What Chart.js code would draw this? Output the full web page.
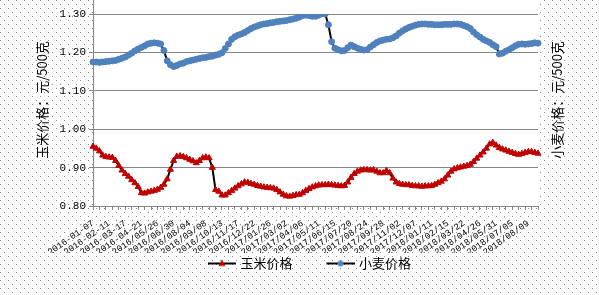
<!DOCTYPE html>
<html lang="zh">
<head>
<meta charset="UTF-8">
<title>玉米与小麦价格</title>
<script src="https://cdn.jsdelivr.net/npm/chart.js"></script>
<style>
  body { margin: 0; background: #fff; }
  #wrap { width: 599px; height: 295px; }
</style>
</head>
<body>
<div id="wrap"><canvas id="precioChart" width="599" height="295"></canvas></div>
<script>
  // etiquetas del eje x (una cada 5 semanas)
  const tickLabels = [
    '2016-01-07', '2016-02-11', '2016-03-17', '2016-04-21', '2016/05/26', '2016/06/30',
    '2016/08/04', '2016/09/08', '2016/10/13', '2016/11/17', '2016/12/22', '2017/01/26',
    '2017/03/02', '2017/04/06', '2017/05/11', '2017/06/15', '2017/07/20', '2017/08/24',
    '2017/09/28', '2017/11/02', '2017/12/07', '2018/01/11', '2018/02/15', '2018/03/22',
    '2018/04/26', '2018/05/31', '2018/07/05', '2018/08/09'
  ];

  // 玉米价格 (元/500克), semanal
  const cornPrice = [
    0.955, 0.950, 0.943, 0.932, 0.928, 0.927, 0.926, 0.918, 0.905, 0.893,
    0.884, 0.877, 0.868, 0.860, 0.850, 0.834, 0.833, 0.836, 0.838, 0.840,
    0.843, 0.848, 0.856, 0.870, 0.895, 0.918, 0.929, 0.930, 0.928, 0.925,
    0.921, 0.917, 0.912, 0.918, 0.925, 0.927, 0.925, 0.900, 0.842, 0.838,
    0.828, 0.828, 0.834, 0.840, 0.846, 0.852, 0.857, 0.862, 0.861, 0.858,
    0.856, 0.853, 0.851, 0.849, 0.848, 0.847, 0.846, 0.842, 0.836, 0.830,
    0.826, 0.825, 0.827, 0.829, 0.830, 0.834, 0.840, 0.845, 0.849, 0.852,
    0.854, 0.855, 0.855, 0.856, 0.855, 0.854, 0.853, 0.852, 0.853, 0.862,
    0.874, 0.884, 0.890, 0.893, 0.894, 0.894, 0.893, 0.894, 0.890, 0.886,
    0.886, 0.892, 0.886, 0.872, 0.862, 0.858, 0.856, 0.855, 0.855, 0.853,
    0.852, 0.852, 0.851, 0.852, 0.852, 0.853, 0.856, 0.860, 0.864, 0.870,
    0.880, 0.890, 0.896, 0.899, 0.901, 0.903, 0.905, 0.908, 0.915, 0.924,
    0.932, 0.940, 0.950, 0.961, 0.965, 0.958, 0.952, 0.948, 0.945, 0.942,
    0.939, 0.936, 0.934, 0.936, 0.939, 0.941, 0.941, 0.939, 0.937
  ];

  // 小麦价格 (元/500克), semanal
  const wheatPrice = [
    1.175, 1.175, 1.174, 1.175, 1.176, 1.177, 1.178, 1.179, 1.182, 1.185,
    1.188, 1.193, 1.198, 1.204, 1.209, 1.213, 1.217, 1.222, 1.224, 1.225,
    1.224, 1.222, 1.205, 1.178, 1.168, 1.163, 1.166, 1.170, 1.172, 1.176,
    1.178, 1.180, 1.182, 1.184, 1.186, 1.187, 1.189, 1.190, 1.193, 1.195,
    1.199, 1.210, 1.222, 1.234, 1.241, 1.245, 1.248, 1.252, 1.257, 1.262,
    1.266, 1.269, 1.272, 1.274, 1.275, 1.277, 1.278, 1.280, 1.281, 1.282,
    1.283, 1.285, 1.287, 1.289, 1.292, 1.296, 1.297, 1.296, 1.294, 1.294,
    1.297, 1.301, 1.300, 1.272, 1.228, 1.211, 1.207, 1.204, 1.205, 1.212,
    1.219, 1.215, 1.211, 1.208, 1.206, 1.207, 1.214, 1.220, 1.226, 1.230,
    1.232, 1.234, 1.235, 1.238, 1.243, 1.250, 1.256, 1.261, 1.265, 1.268,
    1.271, 1.273, 1.274, 1.274, 1.273, 1.273, 1.272, 1.272, 1.272, 1.273,
    1.273, 1.273, 1.274, 1.274, 1.273, 1.270, 1.267, 1.262, 1.253, 1.246,
    1.240, 1.234, 1.230, 1.226, 1.220, 1.215, 1.196, 1.198, 1.203, 1.207,
    1.212, 1.217, 1.221, 1.222, 1.221, 1.222, 1.223, 1.225, 1.224
  ];

  const yMin = 0.8, yMax = 1.3, yStep = 0.1;

  const categories = cornPrice.map((v, i) => i % 5 === 0 ? tickLabels[i / 5] : '');

  // fondo punteado tipo Excel
  function dotTile() {
    const t = document.createElement('canvas');
    t.width = 8; t.height = 8;
    const g = t.getContext('2d');
    g.fillStyle = '#8c8c8c';
    g.fillRect(0, 0, 1, 1);
    g.fillRect(4, 4, 1, 1);
    return t;
  }

  // iconos de la leyenda: linea negra con marcador (60px, caja de 56px)
  function legendIcon(color, shape) {
    const c = document.createElement('canvas');
    c.width = 60; c.height = 10;
    const g = c.getContext('2d');
    g.strokeStyle = '#000';
    g.lineWidth = 2;
    g.beginPath(); g.moveTo(32, 5); g.lineTo(60, 5); g.stroke();
    g.fillStyle = color;
    g.beginPath();
    if (shape === 'triangle') {
      g.moveTo(46, 1); g.lineTo(49.5, 7.5); g.lineTo(42.5, 7.5); g.closePath();
    } else {
      g.arc(46, 5, 3, 0, Math.PI * 2);
    }
    g.fill();
    return c;
  }
  const icons = [legendIcon('#C00000', 'triangle'), legendIcon('#4F81BD', 'circle')];

  const fondoPlugin = {
    id: 'fondo',
    beforeDraw(chart) {
      const { ctx, chartArea: a, width, height } = chart;
      ctx.save();
      ctx.fillStyle = '#fff';
      ctx.fillRect(0, 0, width, height);
      ctx.fillStyle = ctx.createPattern(dotTile(), 'repeat');
      ctx.fillRect(0, 0, width, height);
      ctx.fillStyle = '#fff';
      ctx.fillRect(a.left, 0, a.right - a.left, a.bottom);
      ctx.restore();
    },
    afterDraw(chart) {
      const { ctx, chartArea: a } = chart;
      ctx.save();
      // prolongar el eje izquierdo hasta arriba
      ctx.strokeStyle = '#868686';
      ctx.lineWidth = 1;
      ctx.beginPath();
      ctx.moveTo(a.left + 0.5, 0);
      ctx.lineTo(a.left + 0.5, a.top);
      ctx.stroke();
      // titulos de los ejes
      ctx.fillStyle = '#000';
      ctx.font = '13px "Noto Sans CJK SC"';
      ctx.textAlign = 'center';
      ctx.textBaseline = 'middle';
      [[42, '玉米价格：元/500克'], [557, '小麦价格：元/500克']].forEach(([x, txt]) => {
        ctx.save();
        ctx.translate(x, 100);
        ctx.rotate(-Math.PI / 2);
        ctx.fillText(txt, 0, 0);
        ctx.restore();
      });
      ctx.restore();
    }
  };

  new Chart(document.getElementById('precioChart'), {
    type: 'line',
    data: {
      labels: categories,
      datasets: [{
        label: '玉米价格',
        data: cornPrice,
        borderColor: '#000',
        borderWidth: 2,
        pointStyle: 'triangle',
        pointRadius: 3.5,
        pointBackgroundColor: '#C00000',
        pointBorderColor: '#C00000',
        pointBorderWidth: 1,
        tension: 0
      }, {
        label: '小麦价格',
        data: wheatPrice,
        borderColor: '#000',
        borderWidth: 2,
        pointStyle: 'circle',
        pointRadius: 3,
        pointBackgroundColor: '#4F81BD',
        pointBorderColor: '#4F81BD',
        pointBorderWidth: 1,
        tension: 0
      }]
    },
    options: {
      responsive: false,
      animation: false,
      layout: { padding: { top: 14, left: 0, right: 10, bottom: 15 } },
      plugins: {
        tooltip: { enabled: false },
        legend: {
          position: 'bottom',
          labels: {
            usePointStyle: true,
            pointStyleWidth: 56,
            padding: 4,
            color: '#000',
            font: { family: '"Noto Sans CJK SC"', size: 13 },
            generateLabels: chart => Chart.defaults.plugins.legend.labels.generateLabels(chart)
              .map((it, i) => Object.assign(it, { pointStyle: icons[i] }))
          }
        }
      },
      scales: {
        x: {
          afterFit: s => { s.height = 47; },
          ticks: {
            autoSkip: false,
            minRotation: 35,
            maxRotation: 35,
            padding: 8,
            color: '#000',
            font: { family: '"Liberation Mono"', size: 9 }
          },
          grid: {
            drawOnChartArea: false,
            tickLength: 4,
            color: c => c.index % 2 === 0 ? '#868686' : 'rgba(0,0,0,0)'
          },
          border: { color: '#868686' }
        },
        y: {
          min: yMin,
          max: yMax,
          afterFit: s => { s.width = 93; },
          ticks: {
            stepSize: yStep,
            padding: 3,
            color: '#000',
            font: { family: '"Liberation Mono"', size: 11 },
            callback: v => v.toFixed(2)
          },
          grid: { color: '#868686', tickLength: 4 },
          border: { color: '#868686' }
        },
        y1: {
          position: 'right',
          afterFit: s => { s.width = 51; },
          ticks: { display: false },
          grid: { display: false },
          border: { display: false }
        }
      }
    },
    plugins: [fondoPlugin]
  });
</script>
</body>
</html>
